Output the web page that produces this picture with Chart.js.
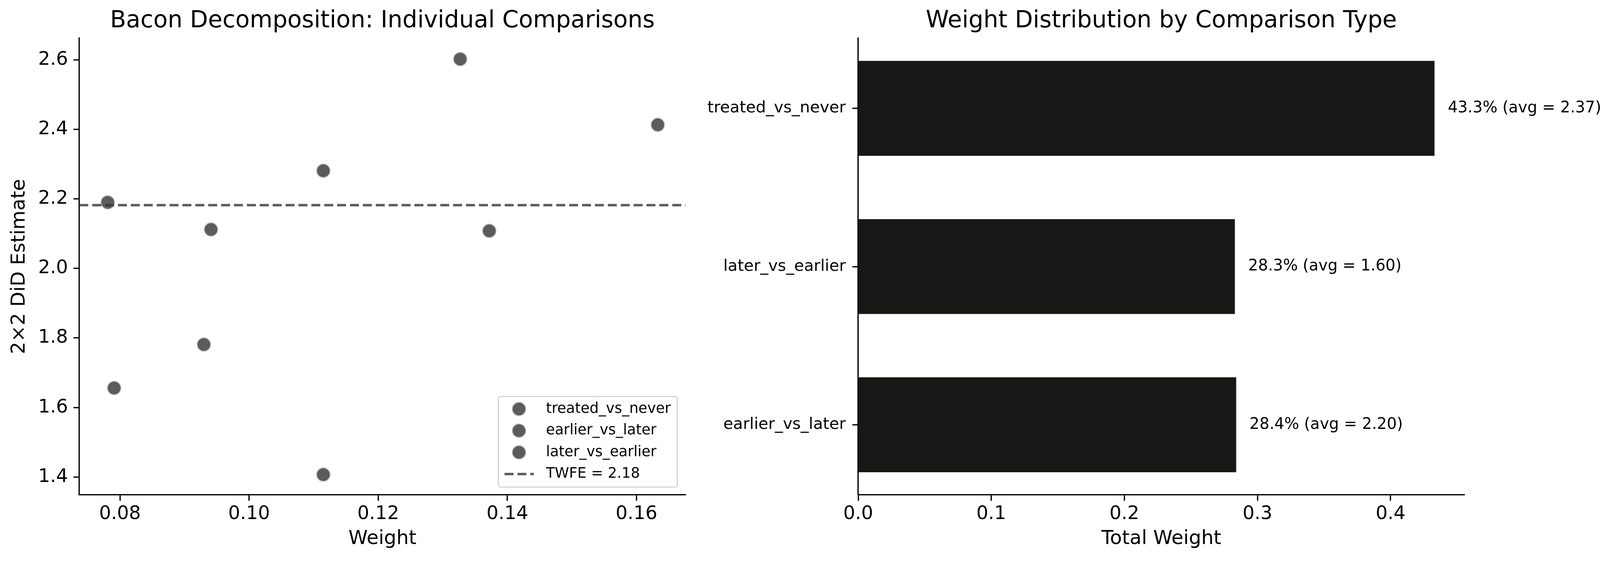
<!DOCTYPE html>
<html>
<head>
<meta charset="utf-8">
<title>Bacon Decomposition</title>
<script src="https://cdn.jsdelivr.net/npm/chart.js@4.4.1/dist/chart.umd.min.js"></script>
<style>
  html, body { margin: 0; padding: 0; background: #fff; overflow: hidden; }
  #wrap { position: relative; width: 4145px; height: 1440px; background: #fff; }
  canvas { position: absolute; top: 0; }
  #scatter { left: 0; }
  #bars { left: 1780px; }
</style>
</head>
<body>
<div id="wrap">
  <canvas id="scatter" width="1780" height="1440"></canvas>
  <canvas id="bars" width="2365" height="1440"></canvas>
</div>
<script>
// --- values ---
const treatedWeights   = [0.1327, 0.1372, 0.1633];
const treatedEstimates = [2.602, 2.108, 2.413];
const earlierWeights   = [0.0781, 0.0941, 0.1115];
const earlierEstimates = [2.190, 2.112, 2.281];
const laterWeights     = [0.0791, 0.0930, 0.1115];
const laterEstimates   = [1.656, 1.781, 1.407];
const twfeEstimate = 2.182;

const weightTicks   = [0.08, 0.10, 0.12, 0.14, 0.16];
const estimateTicks = [1.4, 1.6, 1.8, 2.0, 2.2, 2.4, 2.6];
const weightRange   = [0.0737, 0.1676];
const estimateRange = [1.3486, 2.662];

// bottom to top, like barh
const barCategories = ['earlier_vs_later', 'later_vs_earlier', 'treated_vs_never'];
const totalWeights  = [0.284, 0.283, 0.433];
const weightShares  = [28.4, 28.3, 43.3];
const groupAverages = [2.20, 1.60, 2.37];
const totalWeightTicks = [0, 0.1, 0.2, 0.3, 0.4];
const totalWeightRange = [0, 0.4555];
const categoryRange = [-0.443, 2.443];

const FONT = "'DejaVu Sans', sans-serif";
Chart.defaults.font.family = FONT;
Chart.defaults.color = '#000';

const dotColor = 'rgba(51,51,51,0.8)';
const dotEdge = 'rgba(205,205,205,0.9)';

const toPoints = (xs, ys) => xs.map((x, i) => ({ x: x, y: ys[i] }));
const fixTicks = list => scale => { scale.ticks = list.map(v => ({ value: v })); };

const axisGrid = { drawOnChartArea: false, offset: false, tickLength: 15, tickWidth: 3.3, tickColor: '#000' };
const axisBorder = { color: '#000', width: 3.3 };
const titleFont = { size: 60, weight: 'normal' };

function dots(label, xs, ys) {
  return {
    type: 'scatter', label: label, data: toPoints(xs, ys),
    backgroundColor: dotColor, borderColor: dotEdge,
    pointRadius: 17.5, pointBorderWidth: 2.5, pointHoverRadius: 17.5
  };
}

// legend box in the lower right corner of the plot area
const boxLegend = {
  id: 'boxLegend',
  afterDraw(chart) {
    const { ctx, chartArea } = chart;
    const sets = chart.data.datasets;
    ctx.save();
    ctx.font = "37px " + FONT;
    const textW = Math.max(...sets.map(d => ctx.measureText(d.label).width));
    const w = 122 + textW + 17, h = 232;
    const x0 = chartArea.right - 21 - w, y0 = chartArea.bottom - 20 - h;
    ctx.fillStyle = 'rgba(255,255,255,0.8)';
    ctx.strokeStyle = 'rgba(204,204,204,0.85)';
    ctx.lineWidth = 3;
    ctx.beginPath();
    ctx.roundRect(x0, y0, w, h, 6);
    ctx.fill();
    ctx.stroke();
    sets.forEach((d, i) => {
      const cy = y0 + 32 + i * 55.5;
      if (d.type === 'line') {
        ctx.setLineDash(d.borderDash);
        ctx.strokeStyle = d.borderColor;
        ctx.lineWidth = d.borderWidth;
        ctx.beginPath();
        ctx.moveTo(x0 + 16, cy);
        ctx.lineTo(x0 + 91, cy);
        ctx.stroke();
        ctx.setLineDash([]);
      } else {
        ctx.beginPath();
        ctx.arc(x0 + 53, cy, d.pointRadius, 0, Math.PI * 2);
        ctx.fillStyle = d.backgroundColor;
        ctx.fill();
        ctx.lineWidth = d.pointBorderWidth;
        ctx.strokeStyle = d.borderColor;
        ctx.stroke();
      }
      ctx.fillStyle = '#000';
      ctx.textBaseline = 'middle';
      ctx.textAlign = 'left';
      ctx.fillText(d.label, x0 + 122, cy);
    });
    ctx.restore();
  }
};

new Chart(document.getElementById('scatter'), {
  data: {
    datasets: [
      dots('treated_vs_never', treatedWeights, treatedEstimates),
      dots('earlier_vs_later', earlierWeights, earlierEstimates),
      dots('later_vs_earlier', laterWeights, laterEstimates),
      {
        type: 'line', label: 'TWFE = ' + twfeEstimate.toFixed(2),
        data: weightRange.map(x => ({ x: x, y: twfeEstimate })),
        borderColor: dotColor, borderWidth: 6.25, borderDash: [23, 10],
        pointRadius: 0, order: -1
      }
    ]
  },
  options: {
    responsive: false,
    devicePixelRatio: 1,
    animation: false,
    layout: { padding: { left: 0, right: 25, top: 0, bottom: 0 } },
    plugins: {
      legend: { display: false },
      tooltip: { enabled: false },
      title: {
        display: true, fullSize: false,
        text: 'Bacon Decomposition: Individual Comparisons',
        font: titleFont, color: '#000',
        padding: { top: 18, bottom: 8 }
      }
    },
    scales: {
      x: {
        type: 'linear', min: weightRange[0], max: weightRange[1], offset: false,
        afterFit: s => { s.height = 172; },
        afterBuildTicks: fixTicks(weightTicks),
        ticks: { font: { size: 48 }, padding: 6, maxRotation: 0, autoSkip: false, callback: v => v.toFixed(2) },
        grid: axisGrid, border: axisBorder,
        title: { display: true, text: 'Weight', font: { size: 50 }, padding: { top: 0, bottom: 29 } }
      },
      y: {
        type: 'linear', min: estimateRange[0], max: estimateRange[1], offset: false,
        afterFit: s => { s.width = 203; },
        afterBuildTicks: fixTicks(estimateTicks),
        ticks: { font: { size: 48 }, padding: 14, autoSkip: false, callback: v => v.toFixed(1) },
        grid: axisGrid, border: axisBorder,
        title: { display: true, text: '2×2 DiD Estimate', font: { size: 50 }, padding: { top: 20, bottom: 0 } }
      }
    }
  },
  plugins: [boxLegend]
});

// share and average printed at the end of each bar
const barNotes = {
  id: 'barNotes',
  afterDatasetsDraw(chart) {
    const { ctx } = chart;
    const xs = chart.scales.x;
    const bars = chart.getDatasetMeta(0).data;
    ctx.save();
    ctx.font = "40px " + FONT;
    ctx.fillStyle = '#000';
    ctx.textBaseline = 'middle';
    ctx.textAlign = 'left';
    bars.forEach((bar, i) => {
      const txt = weightShares[i].toFixed(1) + '% (avg = ' + groupAverages[i].toFixed(2) + ')';
      ctx.fillText(txt, xs.getPixelForValue(totalWeights[i] + 0.01), bar.y);
    });
    ctx.restore();
  }
};

new Chart(document.getElementById('bars'), {
  type: 'bar',
  data: {
    datasets: [{
      label: 'Total Weight',
      data: totalWeights.map((w, i) => ({ x: w, y: i })),
      backgroundColor: '#171715',
      borderWidth: 0,
      barPercentage: 0.6,
      categoryPercentage: 1
    }]
  },
  options: {
    indexAxis: 'y',
    responsive: false,
    devicePixelRatio: 1,
    animation: false,
    layout: { padding: { left: 0, right: 396, top: 0, bottom: 0 } },
    plugins: {
      legend: { display: false },
      tooltip: { enabled: false },
      title: {
        display: true, fullSize: false,
        text: 'Weight Distribution by Comparison Type',
        font: titleFont, color: '#000',
        padding: { top: 18, bottom: 8 }
      }
    },
    scales: {
      x: {
        type: 'linear', min: totalWeightRange[0], max: totalWeightRange[1], offset: false,
        afterFit: s => { s.height = 172; },
        afterBuildTicks: fixTicks(totalWeightTicks),
        ticks: { font: { size: 48 }, padding: 6, maxRotation: 0, autoSkip: false, callback: v => v.toFixed(1) },
        grid: axisGrid, border: axisBorder,
        title: { display: true, text: 'Total Weight', font: { size: 50 }, padding: { top: 0, bottom: 29 } }
      },
      y: {
        type: 'linear', min: categoryRange[0], max: categoryRange[1], offset: false,
        afterFit: s => { s.width = 417; },
        afterBuildTicks: fixTicks([0, 1, 2]),
        ticks: { font: { size: 41 }, padding: 17, autoSkip: false, callback: v => barCategories[v] },
        grid: axisGrid, border: axisBorder
      }
    }
  },
  plugins: [barNotes]
});
</script>
</body>
</html>
